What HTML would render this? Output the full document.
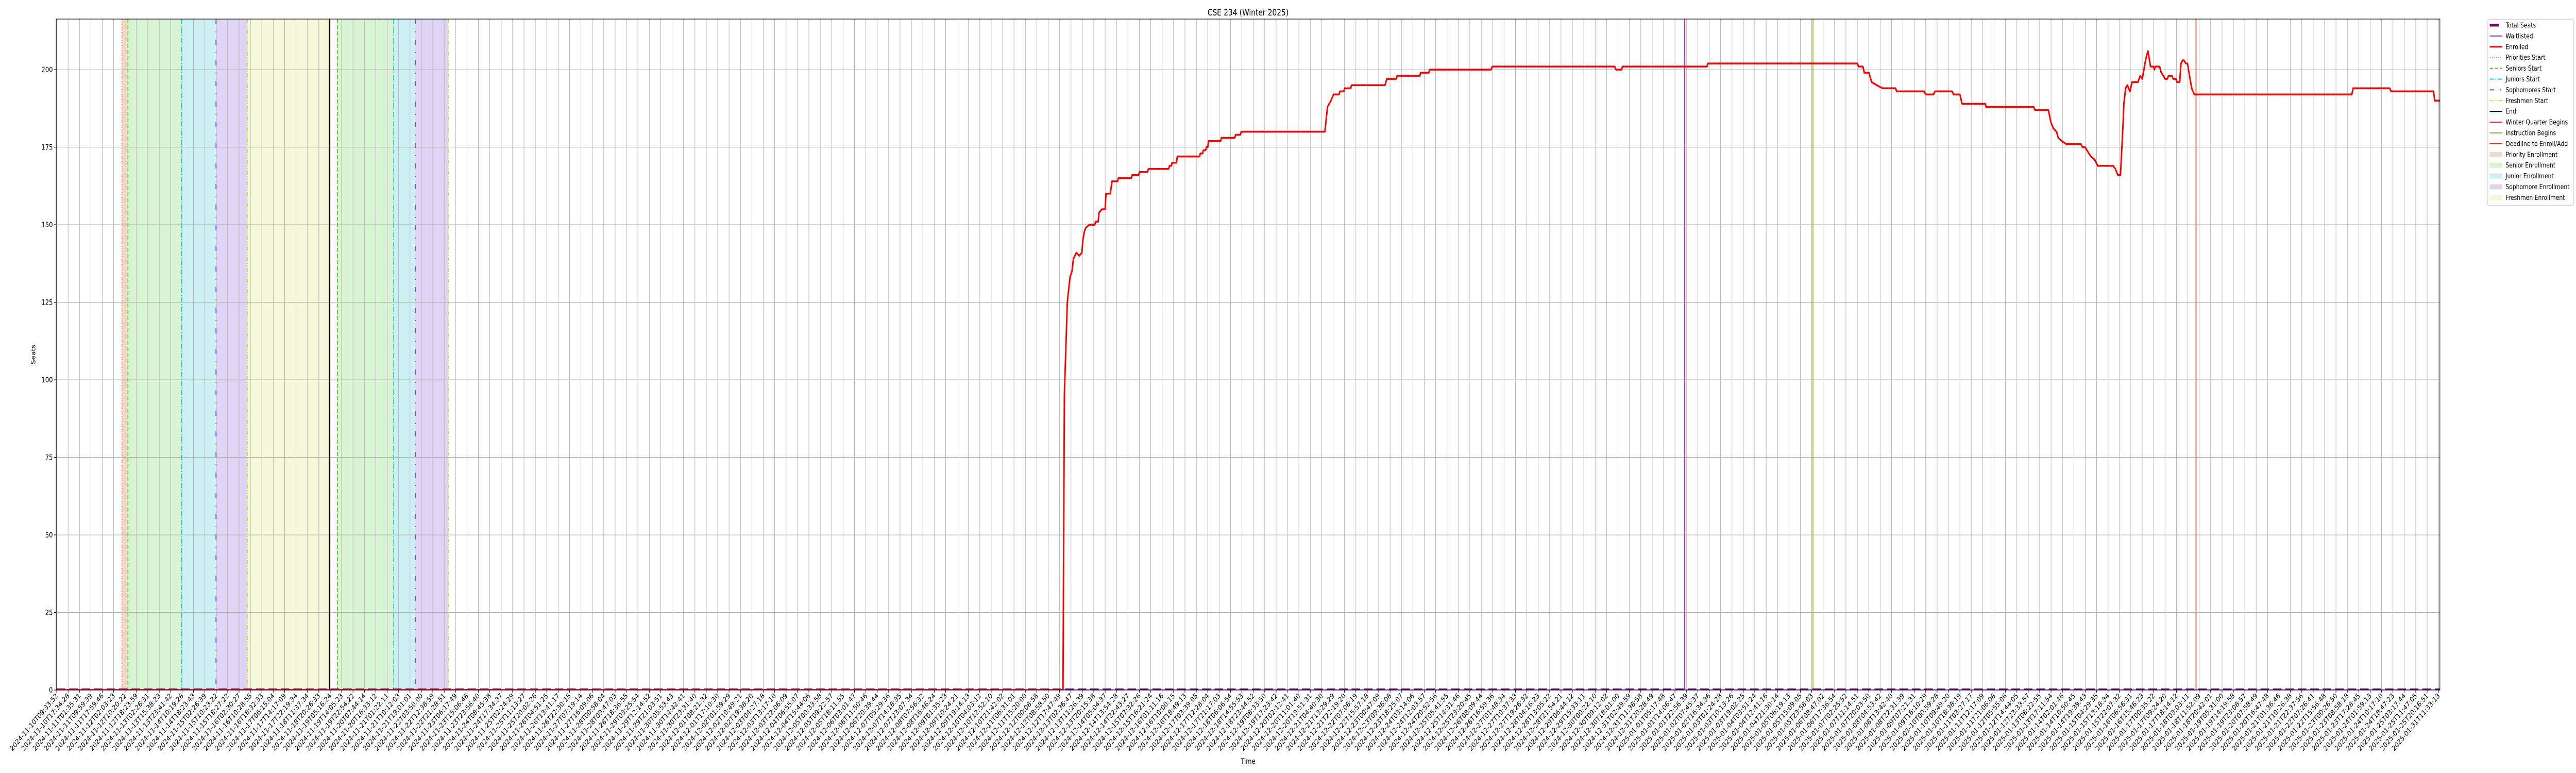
<!DOCTYPE html>
<html><head><meta charset="utf-8"><title>CSE 234 (Winter 2025)</title>
<style>
html,body{margin:0;padding:0;background:#fff;width:100%;height:100%;overflow:hidden;}
svg{display:block;font-family:"DejaVu Sans","Liberation Sans",sans-serif;overflow:hidden;width:100vw;height:100vh;}
</style></head>
<body>
<svg id="chart" viewBox="0 0 6000 1500" preserveAspectRatio="none" xmlns="http://www.w3.org/2000/svg">
<defs><clipPath id="plotClip"><rect x="131" y="37" width="5552" height="1302"/></clipPath>
<clipPath id="pageClip"><rect x="0" y="0" width="6000" height="1500"/></clipPath></defs>
<rect width="6000" height="1500" fill="#fff"/>
<g clip-path="url(#pageClip)">
<g id="spans" clip-path="url(#plotClip)"></g>
<g id="grid"></g>
<g id="events" clip-path="url(#plotClip)"></g>
<g id="series" clip-path="url(#plotClip)"></g>
<rect x="131" y="37" width="5552" height="1302" fill="none" stroke="#000" stroke-width="1.2"/>
<g id="xticks"></g>
<g id="yticks"></g>
<text x="2907" y="30" font-size="16.5" text-anchor="middle">CSE 234 (Winter 2025)</text>
<text x="0" y="0" font-size="13.9" text-anchor="middle" transform="translate(82,688) rotate(-90)">Seats</text>
<text x="2907" y="1482" font-size="13.9" text-anchor="middle">Time</text>
<g id="legend"></g>
</g>
</svg>
<script>
// ---- data ----
const yTicks = [0,25,50,75,100,125,150,175,200];
const tickCount = 210;
const knownLabels = {0:"2024-11-10T09:33:52",1:"2024-11-10T17:34:28",2:"2024-11-11T01:35:31",3:"2024-11-11T09:59:39",4:"2024-11-11T17:59:46",5:"2024-11-12T02:03:23",6:"2024-11-12T10:20:22",7:"2024-11-12T18:23:59",8:"2024-11-13T02:26:31",9:"2024-11-13T15:38:23",10:"2024-11-13T23:41:42",11:"2024-11-14T10:19:28",12:"2024-11-14T18:23:43",13:"2024-11-15T02:26:39",14:"2024-11-15T10:23:22",15:"2024-11-15T18:27:22",16:"2024-11-16T02:30:27",17:"2024-11-16T10:28:55",18:"2024-11-16T18:32:33",19:"2024-11-17T06:15:04",20:"2024-11-17T14:17:09",21:"2024-11-17T22:19:34",197:"2025-01-21T22:37:56",198:"2025-01-22T07:26:41",199:"2025-01-22T15:56:48",200:"2025-01-23T00:26:50",201:"2025-01-23T08:58:18",202:"2025-01-23T17:28:45",203:"2025-01-24T01:59:13",204:"2025-01-24T10:17:10",205:"2025-01-24T18:47:23",206:"2025-01-25T03:17:44",207:"2025-01-25T11:47:05",208:"2025-01-25T20:16:51",209:"2025-01-31T11:33:13"};
const totalSeats = [[0,0],[209.12,0]];
const waitlisted = [[0,0],[209.12,0]];
const enrolledPoints = [[0,0],[88.30,0],[88.42,95],[88.68,125],[88.91,133],[89.09,135],[89.21,139],[89.47,141],[89.73,140],[89.96,141],[90.04,145],[90.19,148],[90.30,149],[90.60,150],[91.09,150],[91.17,151],[91.39,151],[91.47,154],[91.73,155],[92.00,155],[92.07,160],[92.45,160],[92.60,164],[93.09,164],[93.16,165],[94.29,165],[94.37,166],[94.93,166],[95.01,167],[95.72,167],[95.80,168],[97.57,168],[97.65,169],[97.80,169],[97.87,170],[98.25,170],[98.33,172],[100.28,172],[100.36,173],[100.55,173],[100.62,174],[100.81,174],[100.89,175],[101.00,175],[101.07,177],[102.13,177],[102.20,178],[103.37,178],[103.45,179],[103.86,179],[103.94,180],[111.28,180],[111.51,188],[111.81,190],[112.04,192],[112.53,192],[112.60,193],[112.94,193],[113.02,194],[113.54,194],[113.62,195],[116.56,195],[116.71,197],[117.54,197],[117.62,198],[119.61,198],[119.68,199],[120.40,199],[120.47,200],[125.86,200],[125.97,201],[136.71,201],[136.83,200],[137.32,200],[137.39,201],[144.81,201],[144.89,202],[158.00,202],[158.11,201],[158.49,201],[158.61,199],[159.02,199],[159.25,196],[159.70,195],[160.22,194],[161.35,194],[161.46,193],[163.87,193],[163.99,192],[164.67,192],[164.82,193],[166.32,193],[166.44,192],[167.00,192],[167.19,189],[169.23,189],[169.30,188],[173.48,188],[173.59,187],[174.76,187],[174.99,183],[175.21,181],[175.48,180],[175.63,178],[175.93,177],[176.34,176],[177.63,176],[177.74,175],[178.00,175],[178.15,174],[178.49,172],[178.83,171],[179.09,169],[180.45,169],[180.64,168],[180.86,166],[181.09,166],[181.31,182],[181.39,189],[181.54,194],[181.69,195],[181.92,193],[182.11,196],[182.63,196],[182.82,198],[183.01,197],[183.24,202],[183.35,204],[183.50,206],[183.73,201],[183.99,201],[184.07,200],[184.14,201],[184.52,201],[184.67,199],[184.86,198],[185.01,197],[185.20,197],[185.31,198],[185.61,198],[185.72,197],[185.95,197],[186.06,196],[186.29,196],[186.40,202],[186.55,203],[186.66,203],[186.81,202],[186.97,202],[187.15,198],[187.34,194],[187.57,192],[201.39,192],[201.51,194],[204.71,194],[204.83,193],[208.56,193],[208.67,190],[209.12,190]];
const spanStarts = [5.73,6.25,10.96,13.98,16.73,24.64,29.57,31.46];
const spanEnds   = [6.25,10.96,13.98,16.73,23.92,29.57,31.46,34.36];
const spanKinds  = ["priority","senior","junior","sophomore","freshmen","senior","junior","sophomore"];
const eventPositions = [5.73,6.25,10.96,13.98,16.73,23.92,24.64,29.57,31.46,34.36,142.85,154.11,187.72];
const eventKinds = ["priorities","seniors","juniors","sophomores","freshmen","end","seniors","juniors","sophomores","freshmen","winter","instruction","deadline"];

// ---- axes ----
const X0=131, X1=5683, Y0=1339, Y1=37;
const xMin=-0.04, xMax=209.12, yMin=0, yMax=216.3;
const xOf = t => X0 + (t - xMin)/(xMax - xMin)*(X1 - X0);
const yOf = v => Y0 - (v - yMin)/(yMax - yMin)*(Y0 - Y1);
const NS="http://www.w3.org/2000/svg";
function mk(tag, attrs, parent){const e=document.createElementNS(NS,tag);for(const k in attrs)e.setAttribute(k,attrs[k]);parent.appendChild(e);return e;}

const spanFill={priority:"#f5d9c9",senior:"#d9f4d2",junior:"#cdf1f3",sophomore:"#e0d4f5",freshmen:"#f7f8d9"};
const evStyle={
 priorities:{c:"#ee7733",d:"2,3"}, seniors:{c:"#44cc22",d:"8,4"}, juniors:{c:"#00cccc",d:"10,3,2,3"},
 sophomores:{c:"#6a2bd9",d:"10,14,2,14"}, freshmen:{c:"#dddd22",d:"8,3,2,3,2,3"},
 end:{c:"#000",d:""}, winter:{c:"#e0119d",d:""}, instruction:{c:"#88bb11",d:""}, deadline:{c:"#cc3311",d:""}};

const gS=document.getElementById('spans');
spanStarts.forEach((s,i)=>{
  const r=mk('rect',{x:xOf(s),y:Y1,width:xOf(spanEnds[i])-xOf(s),height:Y0-Y1,fill:spanFill[spanKinds[i]]},gS);
  
  
});

const gG=document.getElementById('grid');
for(let i=0;i<tickCount;i++){
  const l=mk('line',{x1:xOf(i),x2:xOf(i),y1:Y1,y2:Y0,stroke:"#b0b0b0","stroke-width":1.1},gG);
  
  
}
yTicks.forEach(v=>{
  const l=mk('line',{x1:X0,x2:X1,y1:yOf(v),y2:yOf(v),stroke:"#b0b0b0","stroke-width":1.1},gG);
  
  
});

const gE=document.getElementById('events');
eventPositions.forEach((t,i)=>{
  const st=evStyle[eventKinds[i]];
  const a={x1:xOf(t),x2:xOf(t),y1:Y1,y2:Y0,stroke:st.c,"stroke-width":2};
  if(st.d)a["stroke-dasharray"]=st.d;
  const l=mk('line',a,gE);
  
  
});

const gSer=document.getElementById('series');
function pts(arr){return arr.map(p=>xOf(p[0]).toFixed(2)+','+yOf(p[1]).toFixed(2)).join(' ');}
const ts=mk('polyline',{points:pts(totalSeats),fill:"none",stroke:"#800080","stroke-width":6,"stroke-dasharray":"20,9"},gSer);


const wl=mk('polyline',{points:pts(waitlisted),fill:"none",stroke:"#0000ff","stroke-width":2},gSer);


const en=mk('polyline',{points:pts(enrolledPoints),fill:"none",stroke:"#ff0000","stroke-width":3.5,"stroke-linejoin":"round"},gSer);



// x tick labels
function pad(n){return String(n).padStart(2,'0');}
const base=Date.UTC(2024,10,10,9,33,52), stepMs=(Date.UTC(2025,0,25,20,16,51)-base)/208;
const gX=document.getElementById('xticks');
for(let i=0;i<tickCount;i++){
  let lab=knownLabels[i];
  if(!lab){const d=new Date(base+i*stepMs+ (i*37%53)*1000);
    lab=d.getUTCFullYear()+'-'+pad(d.getUTCMonth()+1)+'-'+pad(d.getUTCDate())+'T'+pad(d.getUTCHours())+':'+pad(d.getUTCMinutes())+':'+pad(d.getUTCSeconds());}
  const x=xOf(i);
  const tk=mk('line',{x1:x,x2:x,y1:Y0,y2:Y0+5,stroke:"#000","stroke-width":1.1},gX);
  
  
  const tx=mk('text',{x:0,y:0,"font-size":13.9,"text-anchor":"end",transform:`translate(${x+4},${Y0+12}) rotate(-45)`},gX);
  tx.textContent=lab;
  
  
}
const gY=document.getElementById('yticks');
yTicks.forEach(v=>{
  const y=yOf(v);
  const tk=mk('line',{x1:X0-5,x2:X0,y1:y,y2:y,stroke:"#000","stroke-width":1.1},gY);
  
  
  const tx=mk('text',{x:X0-8,y:y+5,"font-size":13.9,"text-anchor":"end"},gY);
  tx.textContent=String(v);
  
  
});

// legend
const legendLabels=["Total Seats","Waitlisted","Enrolled","Priorities Start","Seniors Start","Juniors Start","Sophomores Start","Freshmen Start","End","Winter Quarter Begins","Instruction Begins","Deadline to Enroll/Add","Priority Enrollment","Senior Enrollment","Junior Enrollment","Sophomore Enrollment","Freshmen Enrollment"];
const legendKinds=["ts","wl","en","priorities","seniors","juniors","sophomores","freshmen","end","winter","instruction","deadline","priority","senior","junior","sophomore","freshmen"];
const gL=document.getElementById('legend');
mk('rect',{x:5794.5,y:37.5,width:200,height:361,rx:3,fill:"#fff",stroke:"#d0d0d0","stroke-width":1.2},gL);
legendLabels.forEach((lab,i)=>{
  const y=49+i*20.9, k=legendKinds[i];
  let h;
  if(i<12){
    let a={x1:5799,x2:5828,y1:y,y2:y};
    if(k==="ts")Object.assign(a,{stroke:"#800080","stroke-width":5,x2:5820});
    else if(k==="wl")Object.assign(a,{stroke:"#0000ff","stroke-width":1.5});
    else if(k==="en")Object.assign(a,{stroke:"#ff0000","stroke-width":3});
    else {const st=evStyle[k];Object.assign(a,{stroke:st.c,"stroke-width":2});if(st.d)a["stroke-dasharray"]=st.d;}
    h=mk('line',a,gL);
  } else {
    h=mk('rect',{x:5799,y:y-5,width:29,height:10,fill:spanFill[k]},gL);
  }
  
  
  const t=mk('text',{x:5836,y:y+4.5,"font-size":13},gL);
  t.textContent=lab;
  
  
});
</script>
</body></html>
